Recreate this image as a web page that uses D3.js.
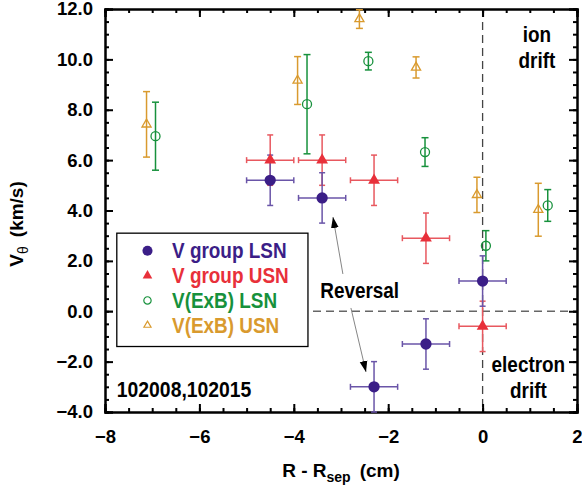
<!DOCTYPE html>
<html>
<head>
<meta charset="utf-8">
<script src="https://cdn.jsdelivr.net/npm/d3@7"></script>
<style>
  body { margin: 0; background: #fff; }
  text { font-family: "Liberation Sans", Arial, Helvetica, sans-serif; font-weight: bold; }
</style>
</head>
<body>
<div id="chart"></div>
<script>
// tick values
var xTicks = [-8, -6, -4, -2, 0, 2];
var yTicks = [-4, -2, 0, 2, 4, 6, 8, 10, 12];

// V group LSN (purple filled circles)
var lsnX = [-4.5, -3.4, -2.3, -1.2, 0.0];
var lsnY = [5.2, 4.5, -3.0, -1.3, 1.2];
var lsnXErr = [0.5, 0.5, 0.5, 0.5, 0.5];
var lsnYErr = [1.0, 1.0, 1.0, 1.0, 1.0];

// V group USN (red filled triangles)
var usnX = [-4.5, -3.4, -2.3, -1.2, 0.0];
var usnY = [6.0, 6.0, 5.2, 2.9, -0.6];
var usnXErr = [0.5, 0.5, 0.5, 0.5, 0.5];
var usnYErr = [1.0, 1.0, 1.0, 1.0, 1.0];

// V(ExB) LSN (green open circles)
var exbLsnX = [-6.93, -3.72, -2.42, -1.22, 0.07, 1.38];
var exbLsnY = [6.95, 8.22, 9.93, 6.32, 2.6, 4.2];
var exbLsnErr = [1.35, 1.97, 0.35, 0.57, 0.6, 0.63];

// V(ExB) USN (orange open triangles)
var exbUsnX = [-7.12, -3.92, -2.61, -1.41, -0.12, 1.18];
var exbUsnY = [7.42, 9.16, 11.6, 9.68, 4.62, 4.03];
var exbUsnErr = [1.3, 0.95, 0.37, 0.42, 0.7, 1.05];

var legendNames = ["V group LSN", "V group USN", "V(ExB) LSN", "V(ExB) USN"];

var purple = "#3b1e87", purpleBar = "#6a55a8";
var red = "#e8303a", redBar = "#e8585f";
var green = "#17913c";
var orange = "#d99a2e";

var margin = {top: 9, right: 5, bottom: 76, left: 105},
    width = 582 - margin.left - margin.right,
    height = 488 - margin.top - margin.bottom;

var svg = d3.select("#chart")
    .append("svg")
        .attr("width", 582)
        .attr("height", 488)
    .append("g")
        .attr("transform", "translate(" + margin.left + "," + margin.top + ")");

var x = d3.scaleLinear().domain([-8, 2]).range([0, width]);
var y = d3.scaleLinear().domain([-4, 12]).range([height, 0]);

var minorX = d3.range(-8, 2.01, 0.5);
var minorY = d3.range(-4, 12.01, 0.5);

// dashed reference lines
svg.append("line")
    .attr("x1", 0).attr("x2", width)
    .attr("y1", y(0)).attr("y2", y(0))
    .attr("stroke", "#666").attr("stroke-width", 1.3)
    .attr("stroke-dasharray", "8,5");
svg.append("line")
    .attr("x1", x(0)).attr("x2", x(0))
    .attr("y1", 0).attr("y2", height)
    .attr("stroke", "#444").attr("stroke-width", 1.3)
    .attr("stroke-dasharray", "8,5");

// axes, ticks pointing inside
function styleAxis(g) {
    g.select(".domain").attr("stroke", "#000").attr("stroke-width", 2);
    g.selectAll(".tick line").attr("stroke", "#000").attr("stroke-width", 2);
    g.selectAll("text")
        .attr("fill", "#000")
        .style("font-size", "18.5px")
        .style("font-family", "'Liberation Sans', Arial, sans-serif")
        .style("font-weight", "bold");
}

svg.append("g")
    .attr("transform", "translate(0," + height + ")")
    .call(d3.axisBottom(x).tickValues(minorX).tickSize(-4).tickFormat(""))
    .call(styleAxis);
svg.append("g")
    .attr("transform", "translate(0," + height + ")")
    .call(d3.axisBottom(x).tickValues(xTicks).tickSize(-8).tickPadding(18)
        .tickFormat(d3.format("d")))
    .call(styleAxis);
svg.append("g")
    .call(d3.axisTop(x).tickValues(minorX).tickSize(-4).tickFormat(""))
    .call(styleAxis);
svg.append("g")
    .call(d3.axisTop(x).tickValues(xTicks).tickSize(-8).tickFormat(""))
    .call(styleAxis);

svg.append("g")
    .call(d3.axisLeft(y).tickValues(minorY).tickSize(-4).tickFormat(""))
    .call(styleAxis);
svg.append("g")
    .call(d3.axisLeft(y).tickValues(yTicks).tickSize(-8).tickPadding(12)
        .tickFormat(d3.format(".1f")))
    .call(styleAxis);
svg.append("g")
    .attr("transform", "translate(" + width + ",0)")
    .call(d3.axisRight(y).tickValues(minorY).tickSize(-4).tickFormat(""))
    .call(styleAxis);
svg.append("g")
    .attr("transform", "translate(" + width + ",0)")
    .call(d3.axisRight(y).tickValues(yTicks).tickSize(-8).tickFormat(""))
    .call(styleAxis);

// error bars
function errorBars(xs, ys, xe, ye, color, cap) {
    var g = svg.append("g").attr("stroke", color).attr("stroke-width", 1.5).attr("fill", "none");
    xs.forEach(function(xv, i) {
        var px = x(xv), py = y(ys[i]);
        var y0 = y(ys[i] - ye[i]), y1 = y(ys[i] + ye[i]);
        g.append("line").attr("x1", px).attr("x2", px).attr("y1", y0).attr("y2", y1);
        g.append("line").attr("x1", px - cap).attr("x2", px + cap).attr("y1", y0).attr("y2", y0);
        g.append("line").attr("x1", px - cap).attr("x2", px + cap).attr("y1", y1).attr("y2", y1);
        if (xe) {
            var x0 = x(xv - xe[i]), x1 = x(xv + xe[i]);
            g.append("line").attr("x1", x0).attr("x2", x1).attr("y1", py).attr("y2", py);
            g.append("line").attr("x1", x0).attr("x2", x0).attr("y1", py - cap).attr("y2", py + cap);
            g.append("line").attr("x1", x1).attr("x2", x1).attr("y1", py - cap).attr("y2", py + cap);
        }
    });
}

function points(xs, ys, symbol, size, fill, stroke) {
    svg.append("g")
        .selectAll("path")
        .data(xs.map(function(v, i) { return {x: v, y: ys[i]}; }))
        .enter()
        .append("path")
            .attr("transform", function(d) { return "translate(" + x(d.x) + "," + y(d.y) + ")"; })
            .attr("d", d3.symbol().type(symbol).size(size))
            .attr("fill", fill)
            .attr("stroke", stroke)
            .attr("stroke-width", 1.3);
}

errorBars(exbUsnX, exbUsnY, null, exbUsnErr, orange, 3.5);
points(exbUsnX, exbUsnY, d3.symbolTriangle, 36, "none", orange);
errorBars(exbLsnX, exbLsnY, null, exbLsnErr, green, 3.5);
points(exbLsnX, exbLsnY, d3.symbolCircle, 64, "none", green);

errorBars(usnX, usnY, usnXErr, usnYErr, redBar, 3);
errorBars(lsnX, lsnY, lsnXErr, lsnYErr, purpleBar, 3);
points(usnX, usnY, d3.symbolTriangle, 60, red, "none");
points(lsnX, lsnY, d3.symbolCircle, 100, purple, "none");

// condensed bold labels
function label(px, py, str, size, color, anchor) {
    return svg.append("text")
        .attr("transform", "translate(" + px + "," + py + ") scale(0.88,1)")
        .attr("text-anchor", anchor || "start")
        .attr("fill", color || "#000")
        .style("font-size", size + "px")
        .text(str);
}

// legend
var lg = svg.append("g");
lg.append("rect")
    .attr("x", x(-7.75)).attr("y", y(3.1))
    .attr("width", x(-3.7) - x(-7.75)).attr("height", y(-1.4) - y(3.1))
    .attr("fill", "#fff").attr("stroke", "#000").attr("stroke-width", 1.3);

var legendSym = [
    {type: d3.symbolCircle, size: 80, fill: purple, stroke: "none", color: purple},
    {type: d3.symbolTriangle, size: 40, fill: red, stroke: "none", color: red},
    {type: d3.symbolCircle, size: 42, fill: "none", stroke: green, color: green},
    {type: d3.symbolTriangle, size: 22, fill: "none", stroke: orange, color: orange}
];
legendNames.forEach(function(name, i) {
    var cy = y(2.4) + i * 24.8;
    lg.append("path")
        .attr("transform", "translate(" + x(-7.1) + "," + cy + ")")
        .attr("d", d3.symbol().type(legendSym[i].type).size(legendSym[i].size))
        .attr("fill", legendSym[i].fill)
        .attr("stroke", legendSym[i].stroke)
        .attr("stroke-width", 1.2);
    label(x(-6.58), cy + 7.5, name, 21.5, legendSym[i].color);
});

// annotations
label(x(-3.44), y(0.53), "Reversal", 21.5);
label(x(1.15), y(10.7), "ion", 21.5, "#000", "middle");
label(x(1.15), y(9.65), "drift", 21.5, "#000", "middle");
label(x(0.97), y(-2.4), "electron", 21.5, "#000", "middle");
label(x(0.97), y(-3.45), "drift", 21.5, "#000", "middle");
label(x(-7.75), y(-3.4), "102008,102015", 22);

svg.append("defs").append("marker")
    .attr("id", "head")
    .attr("viewBox", "0 0 10 10")
    .attr("refX", 10).attr("refY", 5)
    .attr("markerWidth", 11).attr("markerHeight", 11)
    .attr("markerUnits", "userSpaceOnUse")
    .attr("orient", "auto")
    .append("path")
        .attr("d", "M0,1.5 L10,5 L0,8.5 Z")
        .attr("fill", "#000");

var arrows = [
    {from: [-2.96, 1.48], to: [-3.17, 3.74]},
    {from: [-2.79, 0.13], to: [-2.47, -2.41]}
];
arrows.forEach(function(a) {
    svg.append("line")
        .attr("x1", x(a.from[0])).attr("y1", y(a.from[1]))
        .attr("x2", x(a.to[0])).attr("y2", y(a.to[1]))
        .attr("stroke", "#777").attr("stroke-width", 0.9)
        .attr("marker-end", "url(#head)");
});

// axis titles
svg.append("text")
    .attr("x", x(-3))
    .attr("y", height + 65)
    .attr("text-anchor", "middle")
    .style("font-size", "19px")
    .call(function(t) {
        t.append("tspan").text("R - R");
        t.append("tspan").attr("dy", 5).style("font-size", "14px").text("sep");
        t.append("tspan").attr("dy", -5).text("\u2009 (cm)");
    });

svg.append("text")
    .attr("transform", "translate(" + (23 - margin.left) + "," + (224 - margin.top) + ") rotate(-90)")
    .attr("text-anchor", "middle")
    .style("font-size", "19px")
    .call(function(t) {
        t.append("tspan").text("V");
        t.append("tspan").attr("dy", 5).style("font-size", "14px").style("font-weight", "normal").text("\u03b8");
        t.append("tspan").attr("dy", -5).text("\u2009 (km/s)");
    });
</script>
</body>
</html>
